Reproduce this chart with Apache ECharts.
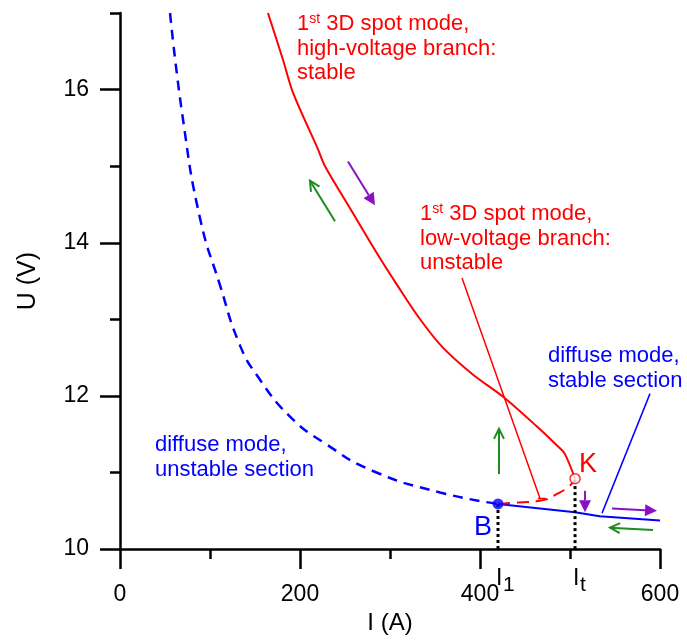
<!DOCTYPE html>
<html><head><meta charset="utf-8">
<script src="https://cdn.jsdelivr.net/npm/echarts@6/dist/echarts.min.js"></script>
<style>html,body{margin:0;padding:0;background:#fff}#c{width:687px;height:640px}</style>
</head><body><div id="c"></div>
<script>
// ---- data ----
const xMajorTicks = [0, 200, 400, 600];
const xMinorTicks = [100, 300, 500];
const yMajorTicks = [10, 12, 14, 16];
const yMinorTicks = [11, 13, 15, 17];

const diffuseUnstable = [[55.6,17.0],[70,15.61],[88.9,14.32],[111,13.45],[133.3,12.66],[153.3,12.25],[188.9,11.73],[227.8,11.38],[281,11.02],[355.6,10.74],[420,10.59]];
const diffuseStable = [[420,10.59],[505.6,10.48],[533,10.43],[600,10.375]];
const spotHigh = [[164.4,17.0],[181.1,16.39],[192.2,15.96],[220,15.22],[227.8,15.0],[255.6,14.45],[286.7,13.84],[307.8,13.45],[331,13.04],[358,12.64],[392,12.28],[426.7,11.98],[463.3,11.60],[486.7,11.34],[494.4,11.24],[505.6,10.92]];
const spotLow = [[420,10.59],[444,10.61],[466.7,10.63],[485.6,10.72],[500,10.83],[505.6,10.92]];
const pointB = [420, 10.59];
const pointK = [505.6, 10.92];
const pointerRed = [[380,13.54],[466.7,10.66]];
const pointerRedCap = [[464.4,10.66],[473.3,10.66]];
const pointerBlue = [[588.9,12.03],[535.6,10.47]];
const arrowsPurple = [[253.3,15.06,283.3,14.49],[516.7,10.76,516.7,10.48],[546.7,10.53,596.7,10.50]];
const arrowsGreen = [[238.9,14.28,211.1,14.81],[421.1,10.98,421.1,11.57],[592.2,10.25,544.4,10.28]];

// ---- styles ----
const FONT = 'Liberation Sans, Arial, Helvetica, sans-serif';
const RED = '#ff0000', BLUE = '#0000ff', GREEN = '#1e8c1e', PURPLE = '#8a10c8';
const axisLineStyle = {color:'#000', width:2.5};

function makeArrow(color, filled){
  return function(params, api){
    const a = api.coord([api.value(0), api.value(1)]);
    const b = api.coord([api.value(2), api.value(3)]);
    const dx = b[0]-a[0], dy = b[1]-a[1], L = Math.hypot(dx,dy)||1, ux = dx/L, uy = dy/L;
    const hl = filled ? 12 : 10, hw = filled ? 6 : 5;
    const bx = b[0]-ux*hl, by = b[1]-uy*hl;
    const l = [bx-uy*hw, by+ux*hw], r = [bx+uy*hw, by-ux*hw];
    const children = [{type:'line', shape:{x1:a[0],y1:a[1],x2:filled?bx:b[0],y2:filled?by:b[1]}, style:{stroke:color,lineWidth:2}}];
    if (filled) children.push({type:'polygon', shape:{points:[b,l,r]}, style:{fill:color}});
    else children.push({type:'polyline', shape:{points:[l,b,r]}, style:{stroke:color,lineWidth:2,fill:null}});
    return {type:'group', children};
  };
}

function lineSeries(data, color, width, dash, smooth, z){
  return {type:'line', data, symbol:'none', smooth:smooth||false, silent:true, z:z||2,
    lineStyle:{color, width, type: dash || 'solid'}, animation:false};
}

const chart = echarts.init(document.getElementById('c'), null, {renderer:'canvas'});
const option = {
  animation:false,
  backgroundColor:'#fff',
  grid:{left:120, right:27, top:13, bottom:86, containLabel:false},
  xAxis:[
    {type:'value', min:0, max:600, position:'bottom',
     axisLine:{show:true, onZero:false, lineStyle:axisLineStyle},
     axisTick:{show:true, customValues:xMajorTicks, length:20, lineStyle:axisLineStyle},
     axisLabel:{show:true, customValues:xMajorTicks, margin:34, fontSize:23, color:'#000', fontFamily:FONT},
     splitLine:{show:false},
     name:'I (A)', nameLocation:'middle', nameGap:57, nameTextStyle:{fontSize:24, color:'#000', fontFamily:FONT}},
    {type:'value', min:0, max:600, position:'bottom',
     axisLine:{show:false, onZero:false},
     axisTick:{show:true, customValues:xMinorTicks, length:10, lineStyle:axisLineStyle},
     axisLabel:{show:false}, splitLine:{show:false}}
  ],
  yAxis:[
    {type:'value', min:10, max:17, position:'left',
     axisLine:{show:true, onZero:false, lineStyle:axisLineStyle},
     axisTick:{show:true, customValues:yMajorTicks, length:20, lineStyle:axisLineStyle},
     axisLabel:{show:true, customValues:yMajorTicks, margin:31, fontSize:23, color:'#000', fontFamily:FONT},
     splitLine:{show:false},
     name:'U (V)', nameLocation:'middle', nameGap:79, nameRotate:90, nameTextStyle:{fontSize:25, color:'#000', fontFamily:FONT}},
    {type:'value', min:10, max:17, position:'left',
     axisLine:{show:false, onZero:false},
     axisTick:{show:true, customValues:yMinorTicks, length:10, lineStyle:axisLineStyle},
     axisLabel:{show:false}, splitLine:{show:false}}
  ],
  series:[
    lineSeries(diffuseUnstable, BLUE, 2.5, [10,7], true),
    lineSeries(diffuseStable, BLUE, 2),
    lineSeries(spotHigh, RED, 2, null, 0.3),
    lineSeries(spotLow, RED, 2, [12,7], true),
    lineSeries(pointerRed, RED, 1.5),
    lineSeries(pointerRedCap, RED, 1.5),
    lineSeries(pointerBlue, BLUE, 1.5),
    lineSeries([[pointB[0],10],pointB], '#000', 3, [3,3], false, 3),
    lineSeries([[pointK[0],10],pointK], '#000', 3, [3,3], false, 3),
    {type:'custom', renderItem:makeArrow(PURPLE,true), data:arrowsPurple, encode:{x:[0,2], y:[1,3]}, silent:true, z:5},
    {type:'custom', renderItem:makeArrow(GREEN,false), data:arrowsGreen, encode:{x:[0,2], y:[1,3]}, silent:true, z:5},
    {type:'scatter', data:[pointB], symbol:'circle', symbolSize:11, itemStyle:{color:BLUE}, silent:true, z:6},
    {type:'scatter', data:[pointK], symbol:'circle', symbolSize:10, itemStyle:{color:'#fff', borderColor:RED, borderWidth:1.5}, silent:true, z:6}
  ],
  graphic:[
    {type:'text', x:297, y:12, silent:true, style:{
      text:'{a|1}{b|st}{a| 3D spot mode,}\n{a|high-voltage branch:}\n{a|stable}',
      fill:RED, align:'left', verticalAlign:'top',
      rich:{a:{fontSize:22, lineHeight:24.5, fontFamily:FONT, fill:RED}, b:{fontSize:14, lineHeight:18, verticalAlign:'top', fontFamily:FONT, fill:RED}}}},
    {type:'text', x:420, y:202, silent:true, style:{
      text:'{a|1}{b|st}{a| 3D spot mode,}\n{a|low-voltage branch:}\n{a|unstable}',
      fill:RED, align:'left', verticalAlign:'top',
      rich:{a:{fontSize:22, lineHeight:24.5, fontFamily:FONT, fill:RED}, b:{fontSize:14, lineHeight:18, verticalAlign:'top', fontFamily:FONT, fill:RED}}}},
    {type:'text', x:548, y:343, silent:true, style:{
      text:'diffuse mode,\nstable section', fill:BLUE, font:'22px '+FONT, lineHeight:25, align:'left', verticalAlign:'top'}},
    {type:'text', x:155, y:432, silent:true, style:{
      text:'diffuse mode,\nunstable section', fill:BLUE, font:'22px '+FONT, lineHeight:25, align:'left', verticalAlign:'top'}},
    {type:'text', x:474, y:514, silent:true, style:{text:'B', fill:BLUE, font:'27px '+FONT, align:'left', verticalAlign:'top'}},
    {type:'text', x:579, y:451, silent:true, style:{text:'K', fill:RED, font:'27px '+FONT, align:'left', verticalAlign:'top'}},
    {type:'text', x:496, y:567, silent:true, style:{text:'I', fill:'#000', font:'23px '+FONT, align:'left', verticalAlign:'top'}},
    {type:'text', x:503, y:575, silent:true, style:{text:'1', fill:'#000', font:'21px '+FONT, align:'left', verticalAlign:'top'}},
    {type:'text', x:573, y:567, silent:true, style:{text:'I', fill:'#000', font:'23px '+FONT, align:'left', verticalAlign:'top'}},
    {type:'text', x:580, y:575, silent:true, style:{text:'t', fill:'#000', font:'21px '+FONT, align:'left', verticalAlign:'top'}}
  ]
};
chart.setOption(option);
</script>
</body></html>
